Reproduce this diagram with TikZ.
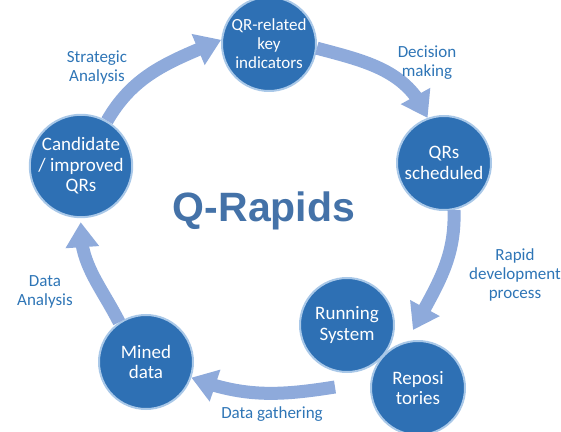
\documentclass[tikz,border=0pt]{standalone}
\usepackage{fontspec}
\setmainfont{Carlito}
\newfontfamily\titlefont{Liberation Sans}
\usetikzlibrary{arrows.meta,bending}
\definecolor{circfill}{HTML}{2E70B4}
\definecolor{circedge}{HTML}{A9C8E8}
\definecolor{arrowc}{HTML}{8EAADB}
\definecolor{labelc}{HTML}{2E75B6}
\definecolor{titlec}{HTML}{4472A8}
\begin{document}
\begin{tikzpicture}[x=1pt,y=1pt,
  stage/.style={circle, fill=circfill, draw=circedge, line width=2pt,
    minimum size=94pt, inner sep=0pt, text=white, align=center,
    font=\fontsize{19}{20.5}\selectfont},
  flow/.style={draw=arrowc, line width=13pt,
    -{Triangle[width=32pt,length=25pt,flex]}},
  lab/.style={text=labelc, align=center, font=\fontsize{17}{19}\selectfont}]
\useasboundingbox (0,0) rectangle (561,431);
% stages
\node[stage, font=\fontsize{17}{19}\selectfont] (qrk) at (269,387) {QR-related\\key\\indicators};
\node[stage] (qrs) at (444,268) {QRs\\scheduled};
\node[stage] (run) at (347,106) {Running\\System};
\node[stage] (repo) at (418,43) {Reposi\\tories};
\node[stage] (mined) at (146,69) {Mined\\data};
\node[stage] (cand) at (81,265) {Candidate\\/ improved\\QRs};
% title
\node[font=\titlefont\bfseries\fontsize{41}{41}\selectfont, text=titlec, anchor=base] (title) at (264,209) {Q-Rapids};
% free ends
\coordinate (t3) at (413,101);
\coordinate (s4) at (335,44);
% flows
\draw[flow] (cand.60) to[out=60,in=203] (qrk.175);
\draw[flow] (qrk.-5) to[out=-15,in=112] (qrs.110);
\draw[flow] (qrs.-78) to[out=-88,in=62] (t3);
\draw[flow] (s4) to[out=189,in=-21] (mined.-19);
\draw[flow, shorten >=4pt] (mined.124) to[out=117,in=-95] (cand.-90);
% labels
\node[lab] (l1) at (97,363) {Strategic\\Analysis};
\node[lab] (l2) at (427,368) {Decision\\making};
\node[lab] (l3) at (515,156) {Rapid\\development\\process};
\node[lab] (l4) at (272,17) {Data gathering};
\node[lab] (l5) at (45,139) {Data\\Analysis};
\end{tikzpicture}
\end{document}
